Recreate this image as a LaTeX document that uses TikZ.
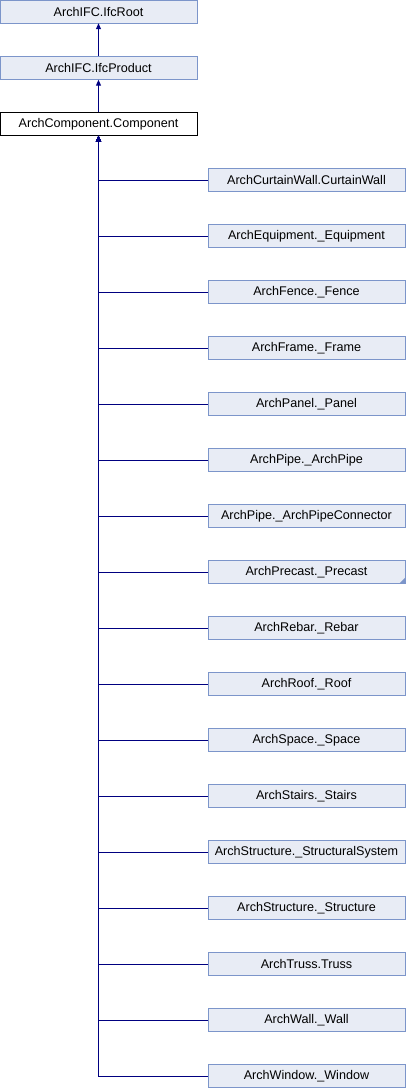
\documentclass[tikz,border=0pt]{standalone}
\usepackage{fontspec}
\setmainfont{Liberation Sans}
\usetikzlibrary{arrows.meta}
\definecolor{boxfill}{HTML}{E8ECF5}
\definecolor{boxline}{HTML}{7C95CA}
\definecolor{navy}{HTML}{000080}
\begin{document}
\begin{tikzpicture}[x=1pt, y=-1pt,
  class node/.style={rectangle, draw=boxline, fill=boxfill, minimum width=197pt, minimum height=23pt, inner sep=0pt, font=\fontsize{12.6}{14}\selectfont},
  main node/.style={class node, draw=black, fill=white},
  inherit/.style={navy, thick, line width=1pt, -{Triangle[width=5pt,length=6pt]}}]
  \useasboundingbox (0,0) rectangle (406,1088);

  \node[class node] (root) at (98.5,11.5) {ArchIFC.IfcRoot};
  \node[class node] (prod) at (98.5,68) {ArchIFC.IfcProduct};
  \node[main node] (comp) at (98.5,124) {ArchComponent.Component};

  \node[class node] (cwall) at (306.5,180) {ArchCurtainWall.CurtainWall};
  \node[class node] (equip) at (306.5,236) {ArchEquipment.\_Equipment};
  \node[class node] (fence) at (306.5,292) {ArchFence.\_Fence};
  \node[class node] (frame) at (306.5,348) {ArchFrame.\_Frame};
  \node[class node] (panel) at (306.5,404) {ArchPanel.\_Panel};
  \node[class node] (pipe) at (306.5,460) {ArchPipe.\_ArchPipe};
  \node[class node] (pipecon) at (306.5,516) {ArchPipe.\_ArchPipeConnector};
  \node[class node] (precast) at (306.5,572) {ArchPrecast.\_Precast};
  \node[class node] (rebar) at (306.5,628) {ArchRebar.\_Rebar};
  \node[class node] (roof) at (306.5,684) {ArchRoof.\_Roof};
  \node[class node] (space) at (306.5,740) {ArchSpace.\_Space};
  \node[class node] (stairs) at (306.5,796) {ArchStairs.\_Stairs};
  \node[class node] (structsys) at (306.5,852) {ArchStructure.\_StructuralSystem};
  \node[class node] (struct) at (306.5,908) {ArchStructure.\_Structure};
  \node[class node] (truss) at (306.5,964) {ArchTruss.Truss};
  \node[class node] (wall) at (306.5,1020) {ArchWall.\_Wall};
  \node[class node] (window) at (306.5,1076) {ArchWindow.\_Window};

  % more children not shown
  \fill[boxline] ([xshift=-6pt]precast.south east) -- (precast.south east) -- ([yshift=6pt]precast.south east) -- cycle;

  \draw[inherit] (prod) -- (root);
  \draw[inherit] (comp) -- (prod);

  \draw[inherit] (cwall.west) -| (comp.south);
  \draw[inherit] (equip.west) -| (comp.south);
  \draw[inherit] (fence.west) -| (comp.south);
  \draw[inherit] (frame.west) -| (comp.south);
  \draw[inherit] (panel.west) -| (comp.south);
  \draw[inherit] (pipe.west) -| (comp.south);
  \draw[inherit] (pipecon.west) -| (comp.south);
  \draw[inherit] (precast.west) -| (comp.south);
  \draw[inherit] (rebar.west) -| (comp.south);
  \draw[inherit] (roof.west) -| (comp.south);
  \draw[inherit] (space.west) -| (comp.south);
  \draw[inherit] (stairs.west) -| (comp.south);
  \draw[inherit] (structsys.west) -| (comp.south);
  \draw[inherit] (struct.west) -| (comp.south);
  \draw[inherit] (truss.west) -| (comp.south);
  \draw[inherit] (wall.west) -| (comp.south);
  \draw[inherit] (window.west) -| (comp.south);

\end{tikzpicture}
\end{document}
